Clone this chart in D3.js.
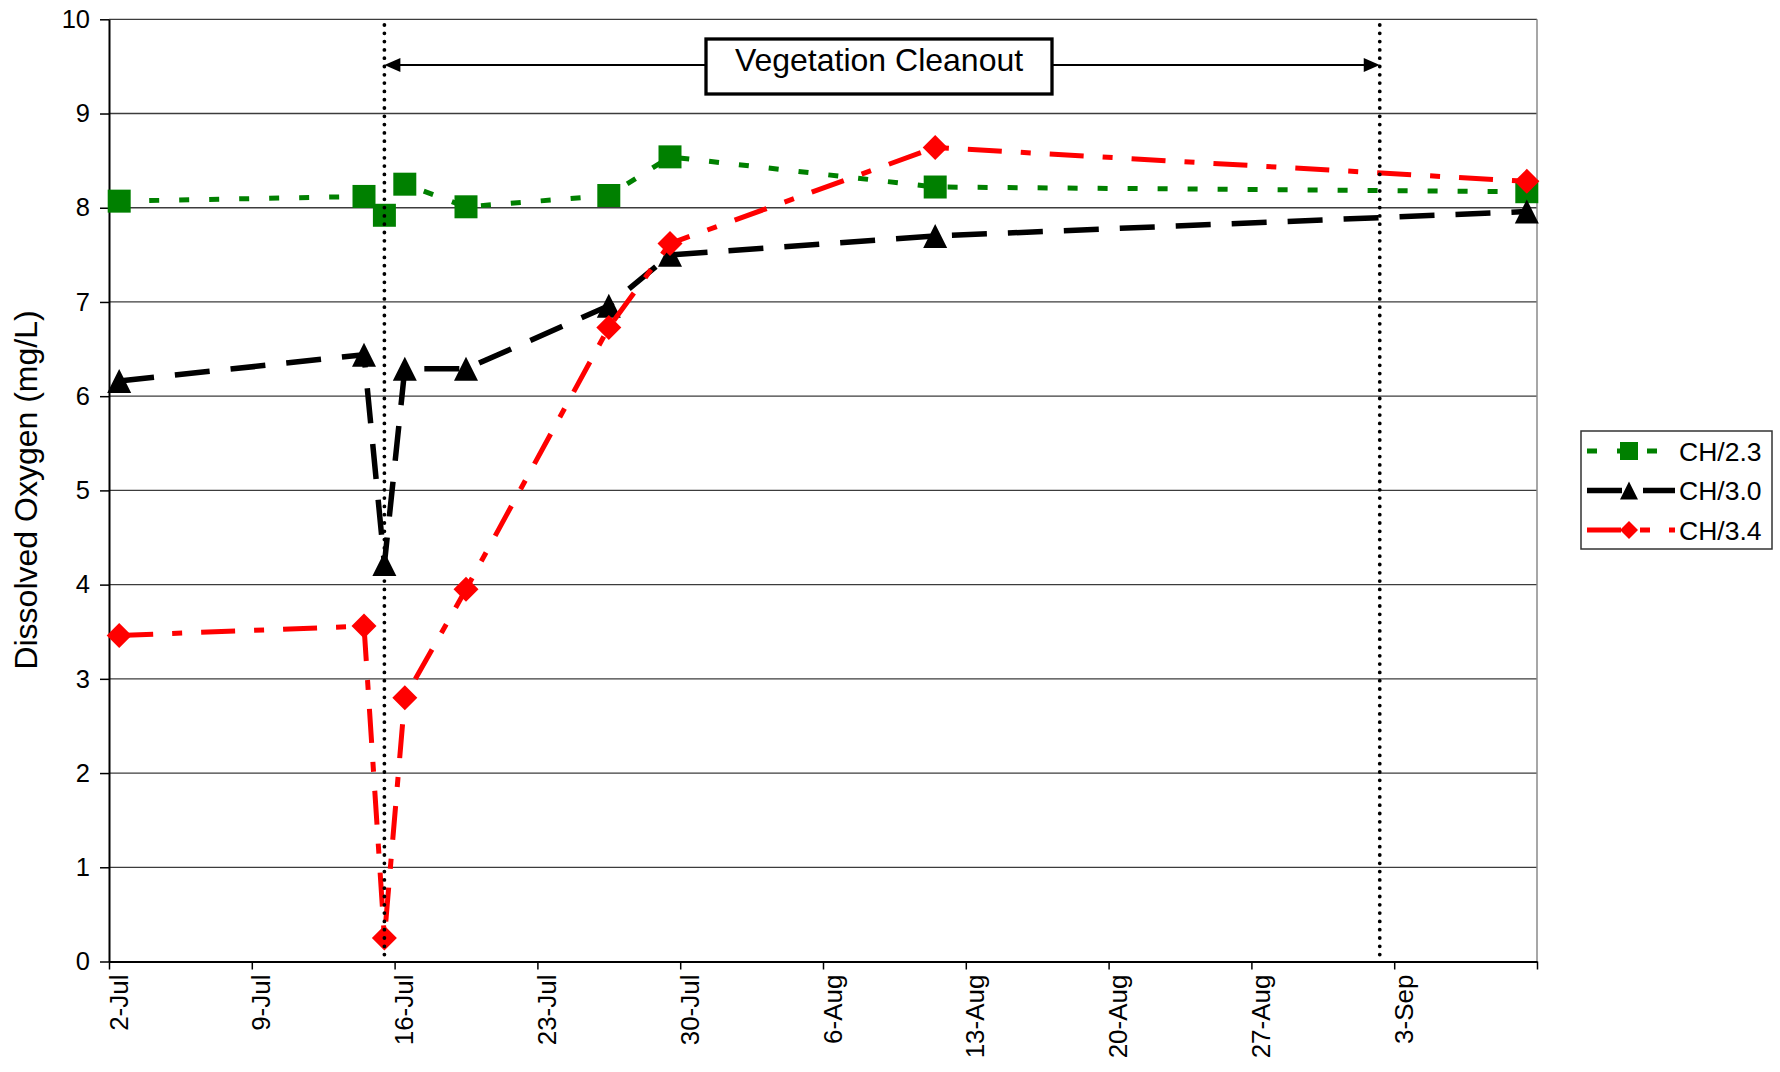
<!DOCTYPE html>
<html>
<head>
<meta charset="utf-8">
<script src="https://cdn.jsdelivr.net/npm/d3@7/dist/d3.min.js"></script>
<style>
  html, body { margin: 0; padding: 0; background: #fff; }
  svg { display: block; font-family: "Liberation Sans", Arial, sans-serif; }
</style>
</head>
<body>
<svg id="chart" width="1780" height="1072"></svg>
<script>
// Sampling dates (mid-day readings)
const sampleDates = [
  "2007-07-02T12:00", "2007-07-14T12:00", "2007-07-15T12:00", "2007-07-16T12:00",
  "2007-07-19T12:00", "2007-07-26T12:00", "2007-07-29T12:00", "2007-08-11T12:00",
  "2007-09-09T12:00"
];

// Dissolved oxygen (mg/L) at each station
const seriesNames = ["CH/2.3", "CH/3.0", "CH/3.4"];
const ch23 = [8.07, 8.12, 7.92, 8.25, 8.01, 8.13, 8.54, 8.22, 8.17];
const ch30 = [6.16, 6.44, 4.22, 6.29, 6.29, 6.96, 7.50, 7.70, 7.96];
const ch34 = [3.46, 3.56, 0.25, 2.80, 3.95, 6.73, 7.62, 8.64, 8.28];

// Axis extents and ticks
const xDomain = ["2007-07-02", "2007-09-10"];
const xTickDates = ["2007-07-02", "2007-07-09", "2007-07-16", "2007-07-23", "2007-07-30",
  "2007-08-06", "2007-08-13", "2007-08-20", "2007-08-27", "2007-09-03", "2007-09-10"];
const xTickLabels = ["2-Jul", "9-Jul", "16-Jul", "23-Jul", "30-Jul", "6-Aug", "13-Aug",
  "20-Aug", "27-Aug", "3-Sep", ""];
const yTicks = [0, 1, 2, 3, 4, 5, 6, 7, 8, 9, 10];

// Vegetation cleanout period
const cleanoutLabel = "Vegetation Cleanout";
const cleanoutStart = "2007-07-15T12:00";
const cleanoutEnd = "2007-09-02T07:00";

const parseDT = d3.timeParse("%Y-%m-%dT%H:%M");
const parseD = d3.timeParse("%Y-%m-%d");

const svg = d3.select("#chart");
const plotLeft = 109, plotRight = 1537, plotTop = 19.3, plotBottom = 961.5;

const x = d3.scaleTime().domain(xDomain.map(parseD)).range([plotLeft, plotRight]);
const y = d3.scaleLinear().domain([0, 10]).range([plotBottom, plotTop]);

// Horizontal gridlines
svg.append("g").selectAll("line")
  .data(yTicks.filter(v => v > 0))
  .join("line")
  .attr("x1", plotLeft).attr("x2", plotRight)
  .attr("y1", d => y(d)).attr("y2", d => y(d))
  .attr("stroke", "#3c3c3c").attr("stroke-width", 1.3);

// Right border of the plot area
svg.append("line")
  .attr("x1", plotRight).attr("x2", plotRight).attr("y1", plotTop).attr("y2", plotBottom)
  .attr("stroke", "#8a8a8a").attr("stroke-width", 1.5);

// Y axis
const yAxis = svg.append("g")
  .attr("transform", `translate(${plotLeft},0)`)
  .call(d3.axisLeft(y).tickValues(yTicks).tickSize(9).tickPadding(10).tickSizeOuter(0));
yAxis.select(".domain").attr("stroke", "#000").attr("stroke-width", 2);
yAxis.selectAll(".tick line").attr("stroke", "#000").attr("stroke-width", 1.5);
yAxis.selectAll(".tick text")
  .attr("font-size", 25.5).attr("fill", "#000")
  .attr("font-family", "Liberation Sans, Arial, sans-serif");

// X axis
const xAxis = svg.append("g")
  .attr("transform", `translate(0,${plotBottom})`)
  .call(d3.axisBottom(x).tickValues(xTickDates.map(parseD)).tickSize(8).tickSizeOuter(0)
    .tickFormat((d, i) => xTickLabels[i]));
xAxis.select(".domain").attr("stroke", "#000").attr("stroke-width", 2);
xAxis.selectAll(".tick line").attr("stroke", "#000").attr("stroke-width", 1.5);
xAxis.selectAll(".tick text")
  .attr("font-size", 26).attr("fill", "#000")
  .attr("font-family", "Liberation Sans, Arial, sans-serif")
  .attr("text-anchor", "end")
  .attr("x", 0).attr("dy", 0).attr("y", 0)
  .attr("transform", "translate(18,13) rotate(-90)");

// Y axis title
svg.append("text")
  .attr("transform", "translate(37,490) rotate(-90)")
  .attr("text-anchor", "middle")
  .attr("font-size", 32)
  .text("Dissolved Oxygen (mg/L)");

// Marker shapes
function markerPath(kind, s) {
  const h = s / 2;
  if (kind === "square") return `M${-h},${-h}H${h}V${h}H${-h}Z`;
  if (kind === "triangle") return `M0,${-h}L${h},${h}L${-h},${h}Z`;
  return `M0,${-h}L${h},0L0,${h}L${-h},0Z`;
}

const series = [
  { name: seriesNames[0], values: ch23, color: "#008000", width: 5, dash: "10,20", marker: "square", size: 23 },
  { name: seriesNames[1], values: ch30, color: "#000000", width: 5.5, dash: "35,21", marker: "triangle", size: 24 },
  { name: seriesNames[2], values: ch34, color: "#ff0000", width: 5, dash: "34,19,10,19", marker: "diamond", size: 25 }
];

const dates = sampleDates.map(parseDT);
const line = d3.line().x(d => x(d[0])).y(d => y(d[1]));

series.forEach(s => {
  const pts = dates.map((d, i) => [d, s.values[i]]);
  const g = svg.append("g");
  g.append("path")
    .attr("d", line(pts))
    .attr("fill", "none")
    .attr("stroke", s.color)
    .attr("stroke-width", s.width)
    .attr("stroke-dasharray", s.dash)
    .attr("stroke-linejoin", "round");
  g.selectAll("path.mk")
    .data(pts)
    .join("path")
    .attr("class", "mk")
    .attr("transform", d => `translate(${x(d[0])},${y(d[1])})`)
    .attr("d", markerPath(s.marker, s.size))
    .attr("fill", s.color);
});

// Cleanout period: dotted boundaries, double arrow and label box
const xs = x(parseDT(cleanoutStart)), xe = x(parseDT(cleanoutEnd));
svg.append("g").selectAll("line")
  .data([xs, xe])
  .join("line")
  .attr("x1", d => d).attr("x2", d => d)
  .attr("y1", 25).attr("y2", plotBottom)
  .attr("stroke", "#000").attr("stroke-width", 3.8)
  .attr("stroke-linecap", "round").attr("stroke-dasharray", "0,8.3");

const arrowY = 65;
svg.append("line")
  .attr("x1", xs + 12).attr("x2", xe - 12)
  .attr("y1", arrowY).attr("y2", arrowY)
  .attr("stroke", "#000").attr("stroke-width", 2);
svg.append("path")
  .attr("d", `M${xs},${arrowY}L${xs + 16},${arrowY - 7}L${xs + 16},${arrowY + 7}Z`)
  .attr("fill", "#000");
svg.append("path")
  .attr("d", `M${xe},${arrowY}L${xe - 16},${arrowY - 7}L${xe - 16},${arrowY + 7}Z`)
  .attr("fill", "#000");

const boxW = 346, boxH = 55, boxCx = 879;
svg.append("rect")
  .attr("x", boxCx - boxW / 2).attr("y", 39)
  .attr("width", boxW).attr("height", boxH)
  .attr("fill", "#fff").attr("stroke", "#000").attr("stroke-width", 3.3);
svg.append("text")
  .attr("x", boxCx).attr("y", 71)
  .attr("text-anchor", "middle")
  .attr("font-size", 32)
  .text(cleanoutLabel);

// Legend
const legend = svg.append("g");
legend.append("rect")
  .attr("x", 1581).attr("y", 431).attr("width", 191).attr("height", 118)
  .attr("fill", "#fff").attr("stroke", "#333").attr("stroke-width", 1.5);
const rowY = [451, 490.5, 530];
series.forEach((s, i) => {
  const ry = rowY[i];
  legend.append("line")
    .attr("x1", 1587).attr("x2", 1675).attr("y1", ry).attr("y2", ry)
    .attr("stroke", s.color).attr("stroke-width", s.width)
    .attr("stroke-dasharray", s.dash);
  legend.append("path")
    .attr("transform", `translate(1629,${ry})`)
    .attr("d", markerPath(s.marker, 18))
    .attr("fill", s.color);
  legend.append("text")
    .attr("x", 1679).attr("y", ry).attr("dy", "0.36em")
    .attr("font-size", 26.5)
    .text(s.name);
});
</script>
</body>
</html>
